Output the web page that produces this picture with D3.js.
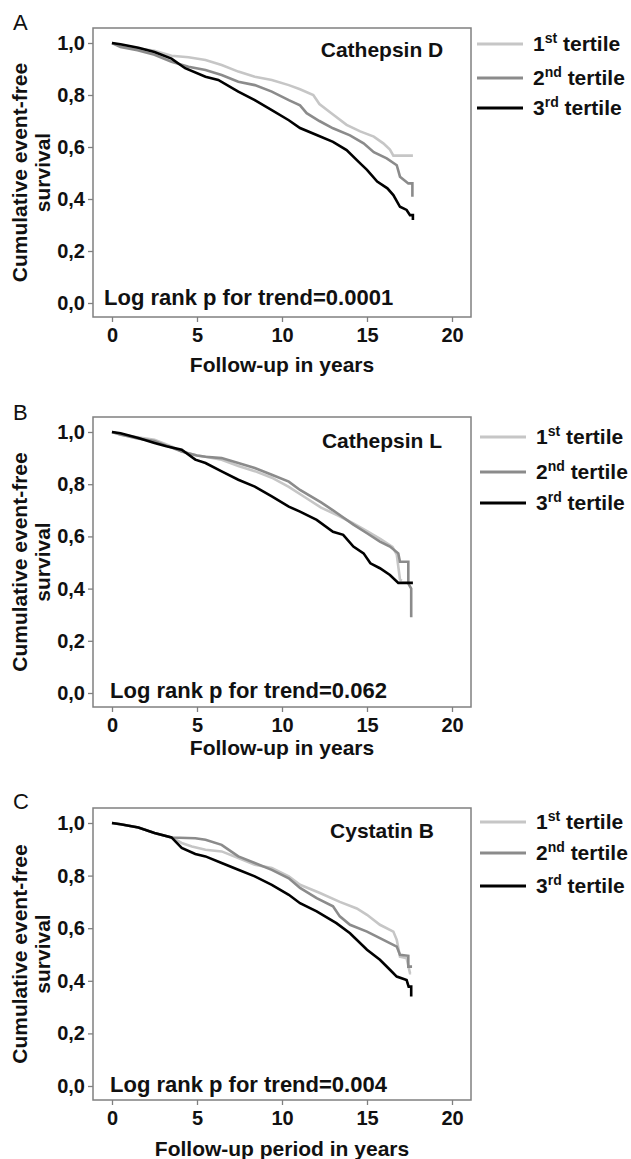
<!DOCTYPE html>
<html>
<head>
<meta charset="utf-8">
<script src="https://cdn.jsdelivr.net/npm/d3@7"></script>
<style>
  body { margin: 0; background: #fff; }
  text { font-family: "Liberation Sans", Arial, sans-serif; }
</style>
</head>
<body>
<svg id="chart" width="631" height="1159"></svg>
<script>
var panelLetters = ["A", "B", "C"];
var markerNames = ["Cathepsin D", "Cathepsin L", "Cystatin B"];
var trendLabels = [
  "Log rank p for trend=0.0001",
  "Log rank p for trend=0.062",
  "Log rank p for trend=0.004"
];
var xTitles = ["Follow-up in years", "Follow-up in years", "Follow-up period in years"];
var yTitle = ["Cumulative event-free", "survival"];
var tertileNums = ["1", "2", "3"];
var tertileSups = ["st", "nd", "rd"];
var xTicks = [0, 5, 10, 15, 20];
var yTicks = [0, 0.2, 0.4, 0.6, 0.8, 1.0];

// [years, survival]
var catD1 = [[0,1],[0.5,0.99],[1.5,0.98],[2.5,0.97],[3.5,0.951],[4.5,0.945],[5.5,0.935],[6.45,0.915],
  [7.43,0.89],[8.4,0.87],[9.4,0.858],[10.4,0.838],[11.06,0.822],[11.84,0.8],[12.2,0.765],[13.0,0.725],
  [13.8,0.685],[14.6,0.66],[15.4,0.64],[15.96,0.614],[16.35,0.59],[16.55,0.567],[17.7,0.567]];
var catD2 = [[0,1],[0.5,0.985],[1.5,0.972],[2.5,0.955],[3.5,0.928],[4.5,0.909],[5.5,0.896],[6.45,0.877],
  [7.43,0.851],[8.4,0.838],[9.4,0.813],[10.4,0.78],[11.06,0.76],[11.45,0.73],[12.2,0.7],[13.0,0.672],
  [14.0,0.645],[14.8,0.614],[15.4,0.58],[16.16,0.556],[16.75,0.53],[16.94,0.486],[17.43,0.46],
  [17.67,0.46],[17.67,0.409]];
var catD3 = [[0,1],[0.5,0.995],[1.55,0.982],[2.5,0.965],[3.5,0.94],[4.3,0.903],[5.5,0.87],[6.25,0.858],
  [7.43,0.813],[8.4,0.78],[9.4,0.742],[10.4,0.703],[11.06,0.673],[12.04,0.646],[13.0,0.62],[13.8,0.588],
  [14.6,0.537],[15.0,0.512],[15.6,0.467],[16.2,0.441],[16.55,0.415],[16.94,0.37],[17.33,0.358],
  [17.53,0.338],[17.7,0.338],[17.7,0.319]];

var catL1 = [[0,1],[0.5,0.99],[1.5,0.98],[2.5,0.97],[3.5,0.945],[4.1,0.925],[5.0,0.91],[5.5,0.905],
  [6.45,0.894],[7.43,0.87],[8.4,0.85],[9.4,0.825],[10.4,0.79],[11.35,0.75],[12.3,0.71],[13.3,0.68],
  [14.2,0.65],[15.0,0.62],[15.8,0.59],[16.5,0.56],[16.75,0.53],[16.94,0.435],[17.05,0.43]];
var catL2 = [[0,1],[0.5,0.99],[1.5,0.975],[2.5,0.965],[3.5,0.94],[4.1,0.925],[5.0,0.91],[5.5,0.905],
  [6.45,0.9],[7.43,0.881],[8.4,0.862],[9.4,0.836],[10.4,0.81],[11.06,0.778],[12.3,0.73],[13.0,0.7],
  [14.2,0.645],[15.0,0.612],[15.76,0.58],[16.35,0.561],[16.84,0.535],[16.94,0.503],[17.43,0.503],
  [17.43,0.42],[17.6,0.4],[17.6,0.29]];
var catL3 = [[0,1],[0.5,0.995],[1.55,0.977],[2.5,0.958],[3.2,0.945],[4.1,0.932],[4.9,0.894],[5.5,0.881],
  [6.45,0.849],[7.43,0.817],[8.4,0.791],[9.4,0.753],[10.4,0.714],[11.06,0.695],[12.04,0.663],[13.0,0.618],
  [13.6,0.606],[14.2,0.561],[14.8,0.535],[15.2,0.497],[15.76,0.478],[16.35,0.452],[16.84,0.422],[17.7,0.422]];

var cysB1 = [[0,1],[0.5,0.995],[1.55,0.983],[2.5,0.962],[3.5,0.945],[4.1,0.924],[4.7,0.911],[5.5,0.898],
  [6.45,0.892],[7.43,0.867],[8.4,0.841],[9.4,0.829],[10.4,0.797],[11.06,0.765],[12.2,0.735],[13.4,0.7],
  [14.4,0.675],[15.0,0.651],[15.76,0.613],[16.55,0.587],[16.75,0.556],[16.94,0.492],[17.33,0.486],
  [17.53,0.429],[17.6,0.429]];
var cysB2 = [[0,1],[0.5,0.995],[1.55,0.983],[2.5,0.962],[3.5,0.945],[4.9,0.942],[5.5,0.936],[6.45,0.917],
  [7.0,0.892],[7.43,0.873],[8.4,0.848],[9.4,0.822],[10.4,0.79],[11.06,0.753],[12.04,0.714],[13.0,0.683],
  [13.4,0.645],[14.0,0.613],[15.0,0.587],[15.76,0.562],[16.75,0.53],[16.94,0.499],[17.43,0.495],
  [17.43,0.454],[17.65,0.454]];
var cysB3 = [[0,1],[0.5,0.995],[1.55,0.983],[2.5,0.962],[3.5,0.945],[4.1,0.905],[4.9,0.882],[5.5,0.873],
  [6.45,0.848],[7.43,0.822],[8.4,0.797],[9.4,0.765],[10.4,0.727],[11.06,0.695],[12.04,0.664],[13.2,0.619],
  [14.0,0.581],[15.0,0.518],[15.76,0.48],[16.35,0.442],[16.75,0.416],[17.33,0.403],[17.45,0.378],
  [17.6,0.378],[17.6,0.34]];

var panelSeries = [[catD1, catD2, catD3], [catL1, catL2, catL3], [cysB1, cysB2, cysB3]];
var tertileColors = ["#c6c6c6", "#8b8b8b", "#000000"];

// where each panel sits on the page
var layout = [
  {top: 28,  bottom: 317,  y1: 43,  y0: 303,  letterY: 30,  titleY: 57,  pX: 104, pY: 305,  xTitleY: 372,  legY: [44, 78, 108],   legX: 477},
  {top: 417, bottom: 707,  y1: 432, y0: 693,  letterY: 420, titleY: 448, pX: 110, pY: 698,  xTitleY: 755,  legY: [437, 472, 503], legX: 480},
  {top: 808, bottom: 1100, y1: 823, y0: 1086, letterY: 809, titleY: 838, pX: 110, pY: 1092, xTitleY: 1156, legY: [822, 853, 886], legX: 480}
];

var frameLeft = 93, frameRight = 471;

var svg = d3.select("#chart");

var x = d3.scaleLinear().domain([0, 20]).range([112, 452]);

var commaFmt = function(d) { return d3.format(".1f")(d).replace(".", ","); };

panelLetters.forEach(function(letter, p) {
  var lay = layout[p];
  var y = d3.scaleLinear().domain([0, 1]).range([lay.y0, lay.y1]);
  var g = svg.append("g").attr("class", "panel");

  // frame
  g.append("rect")
    .attr("x", frameLeft)
    .attr("y", lay.top)
    .attr("width", frameRight - frameLeft)
    .attr("height", lay.bottom - lay.top)
    .attr("fill", "none")
    .attr("stroke", "#808080")
    .attr("stroke-width", 1.5);

  var xAxis = d3.axisBottom(x).tickValues(xTicks).tickSize(5).tickPadding(6).tickFormat(d3.format("d"));
  var yAxis = d3.axisLeft(y).tickValues(yTicks).tickSize(5).tickPadding(3).tickFormat(commaFmt);

  var xg = g.append("g").attr("transform", "translate(0," + lay.bottom + ")").call(xAxis);
  var yg = g.append("g").attr("transform", "translate(" + frameLeft + ",0)").call(yAxis);

  [xg, yg].forEach(function(ax) {
    ax.select(".domain").remove();
    ax.selectAll(".tick line").attr("stroke", "#808080").attr("stroke-width", 1.3);
    ax.selectAll(".tick text")
      .attr("fill", "#111")
      .style("font-size", "20px")
      .style("font-weight", "bold");
  });

  // curves
  var line = d3.line()
    .x(function(d) { return x(d[0]); })
    .y(function(d) { return y(d[1]); })
    .curve(d3.curveLinear);

  panelSeries[p].forEach(function(series, i) {
    g.append("path")
      .datum(series)
      .attr("d", line)
      .attr("fill", "none")
      .attr("stroke", tertileColors[i])
      .attr("stroke-width", 2.6)
      .attr("stroke-linejoin", "miter");
  });

  // panel letter
  g.append("text")
    .attr("x", 13)
    .attr("y", lay.letterY)
    .style("font-size", "22px")
    .attr("fill", "#111")
    .text(letter);

  // marker name
  g.append("text")
    .attr("x", 382)
    .attr("y", lay.titleY)
    .attr("text-anchor", "middle")
    .style("font-size", "21px")
    .style("font-weight", "bold")
    .attr("fill", "#111")
    .text(markerNames[p]);

  // log rank
  g.append("text")
    .attr("x", lay.pX)
    .attr("y", lay.pY)
    .style("font-size", "22px")
    .style("font-weight", "bold")
    .attr("fill", "#111")
    .text(trendLabels[p]);

  // axis titles
  g.append("text")
    .attr("x", (frameLeft + frameRight) / 2)
    .attr("y", lay.xTitleY)
    .attr("text-anchor", "middle")
    .style("font-size", "21px")
    .style("font-weight", "bold")
    .attr("fill", "#111")
    .text(xTitles[p]);

  var cy = (lay.top + lay.bottom) / 2;
  [27, 50].forEach(function(bx, k) {
    g.append("text")
      .attr("transform", "translate(" + bx + "," + cy + ") rotate(-90)")
      .attr("text-anchor", "middle")
      .style("font-size", "21px")
      .style("font-weight", "bold")
      .attr("fill", "#111")
      .text(yTitle[k]);
  });

  // legend
  tertileNums.forEach(function(num, i) {
    var ly = lay.legY[i];
    g.append("line")
      .attr("x1", lay.legX)
      .attr("x2", lay.legX + 46)
      .attr("y1", ly)
      .attr("y2", ly)
      .attr("stroke", tertileColors[i])
      .attr("stroke-width", 3);

    var t = g.append("text")
      .attr("x", lay.legX + 56)
      .attr("y", ly + 7)
      .style("font-size", "21px")
      .style("font-weight", "bold")
      .attr("fill", "#111");
    t.append("tspan").text(num);
    t.append("tspan").attr("dy", -8).style("font-size", "14px").text(tertileSups[i]);
    t.append("tspan").attr("dy", 8).text(" tertile");
  });
});
</script>
</body>
</html>
